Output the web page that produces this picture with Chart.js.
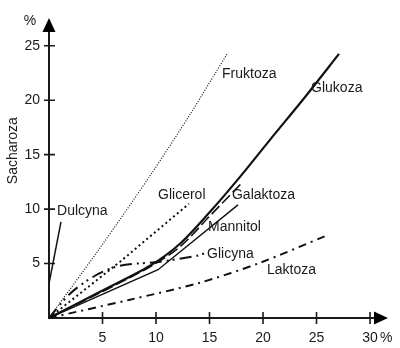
<!DOCTYPE html>
<html>
<head>
<meta charset="utf-8">
<script src="https://cdn.jsdelivr.net/npm/chart.js@4/dist/chart.umd.min.js"></script>
<style>
  html, body { margin: 0; padding: 0; background: #fff; }
  #wrap { width: 400px; height: 348px; }
</style>
</head>
<body>
<div id="wrap"><canvas id="c" width="400" height="348"></canvas></div>
<script>
// Sweetness relative to sucrose: concentration of substance (%) vs. equisweet sucrose (%)
const fruktozaX  = [0, 4.77, 9.44, 13.18, 16.64];
const fruktozaY  = [0, 6.45, 13.06, 18.7, 24.25];
const glukozaX   = [0, 4.77, 9.44, 12.24, 15.05, 17.85, 20.65, 23.93, 27.1];
const glukozaY   = [0, 2.41, 4.8, 6.82, 9.75, 12.96, 16.36, 20.3, 24.25];
const galaktozaX = [0, 4.77, 9.44, 12.24, 15.05, 18.04];
const galaktozaY = [0, 2.32, 4.71, 6.54, 9.39, 12.42];
const mannitolX  = [0, 10.19, 17.66];
const mannitolY  = [0, 4.43, 10.39];
const glicerolX  = [0, 6.64, 13.08];
const glicerolY  = [0, 5.17, 10.49];
const glicynaX   = [0, 1.96, 4.3, 6.64, 10.37, 13.83, 14.67];
const glicynaY   = [0, 2.23, 3.88, 4.8, 5.17, 5.72, 5.99];
const laktozaX   = [0, 7.57, 14.11, 19.72, 25.89];
const laktozaY   = [0, 1.68, 3.24, 5.07, 7.55];
const dulcynaX   = [0, 1.12];
const dulcynaY   = [3.15, 8.83];

const xTicks = [5, 10, 15, 20, 25, 30];
const yTicks = [5, 10, 15, 20, 25];

// Curve names and the point each name is written from (data units)
const seriesNames = ['Fruktoza', 'Glukoza', 'Glicerol', 'Galaktoza', 'Mannitol', 'Glicyna', 'Laktoza', 'Dulcyna'];
const nameAtX = [16.17, 24.49, 10.19, 17.1, 14.86, 14.77, 20.37, 0.75];
const nameAtY = [22.41, 21.13, 11.31, 11.31, 8.38, 5.9, 4.43, 9.84];

const FONT = '"Liberation Sans", Arial, Helvetica, sans-serif';
const INK = '#111';

function pts(xs, ys) { return xs.map((x, i) => ({ x: x, y: ys[i] })); }

function series(label, xs, ys, width, dash, tension) {
  return {
    label: label,
    data: pts(xs, ys),
    showLine: true,
    borderColor: INK,
    borderWidth: width,
    borderDash: dash,
    pointRadius: 0,
    fill: false,
    tension: tension || 0,
    borderCapStyle: 'butt'
  };
}

// Hand-drawn style axes with arrowheads, crossing ticks and free text labels
const axesPlugin = {
  id: 'arrowAxes',
  beforeDatasetsDraw(chart) {
    const ctx = chart.ctx;
    const xs = chart.scales.x, ys = chart.scales.y;
    const x0 = xs.getPixelForValue(0), y0 = ys.getPixelForValue(0);
    const xEnd = xs.right, yEnd = ys.top;
    ctx.save();
    ctx.strokeStyle = '#1a1a1a';
    ctx.fillStyle = '#000';
    ctx.lineWidth = 2;
    // axis lines
    ctx.beginPath();
    ctx.moveTo(x0, y0 + 1); ctx.lineTo(x0, yEnd + 12);
    ctx.moveTo(x0 - 1, y0); ctx.lineTo(xEnd - 12, y0);
    ctx.stroke();
    // arrowheads
    ctx.beginPath();
    ctx.moveTo(x0, yEnd); ctx.lineTo(x0 - 6.5, yEnd + 14); ctx.lineTo(x0 + 6.5, yEnd + 14); ctx.closePath();
    ctx.fill();
    ctx.beginPath();
    ctx.moveTo(xEnd, y0); ctx.lineTo(xEnd - 14, y0 - 6.5); ctx.lineTo(xEnd - 14, y0 + 6.5); ctx.closePath();
    ctx.fill();
    // ticks
    ctx.lineWidth = 1.6;
    ctx.beginPath();
    yTicks.forEach(v => { const p = ys.getPixelForValue(v); ctx.moveTo(x0 - 5, p); ctx.lineTo(x0 + 6, p); });
    xTicks.forEach(v => { const p = xs.getPixelForValue(v); ctx.moveTo(p, y0 - 6); ctx.lineTo(p, y0 + 6); });
    ctx.stroke();
    // tick labels
    ctx.fillStyle = '#1a1a1a';
    ctx.font = '14px ' + FONT;
    ctx.textAlign = 'right'; ctx.textBaseline = 'middle';
    yTicks.forEach(v => ctx.fillText(String(v), x0 - 9, ys.getPixelForValue(v)));
    ctx.textAlign = 'center'; ctx.textBaseline = 'middle';
    xTicks.forEach(v => ctx.fillText(String(v), xs.getPixelForValue(v), y0 + 20));
    // units and axis title
    ctx.textAlign = 'left';
    ctx.fillText('%', xs.getPixelForValue(30) + 10, y0 + 20);
    ctx.textAlign = 'center';
    ctx.fillText('%', x0 - 19, yEnd + 3);
    ctx.save();
    ctx.translate(x0 - 36, ys.getPixelForValue(15) - 4);
    ctx.rotate(-Math.PI / 2);
    ctx.fillText('Sacharoza', 0, 0);
    ctx.restore();
    ctx.restore();
  },
  afterDatasetsDraw(chart) {
    const ctx = chart.ctx;
    const xs = chart.scales.x, ys = chart.scales.y;
    ctx.save();
    ctx.fillStyle = '#1a1a1a';
    ctx.font = '14px ' + FONT;
    ctx.textAlign = 'left'; ctx.textBaseline = 'middle';
    seriesNames.forEach((n, i) => ctx.fillText(n, xs.getPixelForValue(nameAtX[i]), ys.getPixelForValue(nameAtY[i])));
    ctx.restore();
  }
};

new Chart(document.getElementById('c'), {
  type: 'scatter',
  data: {
    datasets: [
      series('Fruktoza', fruktozaX, fruktozaY, 1.2, [1, 1.6], 0.3),
      series('Glukoza', glukozaX, glukozaY, 2.2, [], 0.3),
      series('Galaktoza', galaktozaX, galaktozaY, 1.6, [11, 4], 0.3),
      series('Mannitol', mannitolX, mannitolY, 1.4, [], 0),
      series('Glicerol', glicerolX, glicerolY, 2, [2, 3], 0),
      series('Glicyna', glicynaX, glicynaY, 2, [12, 5, 2, 4, 2, 5], 0.3),
      series('Laktoza', laktozaX, laktozaY, 2, [8, 5, 2, 5], 0.3),
      series('Dulcyna', dulcynaX, dulcynaY, 1.5, [], 0)
    ]
  },
  options: {
    responsive: false,
    animation: false,
    events: [],
    layout: { padding: { left: 49, right: 12, top: 18, bottom: 30 } },
    plugins: { legend: { display: false }, tooltip: { enabled: false } },
    scales: {
      x: { type: 'linear', display: false, min: 0, max: 31.68 },
      y: { type: 'linear', display: false, min: 0, max: 27.55 }
    }
  },
  plugins: [axesPlugin]
});
</script>
</body>
</html>
